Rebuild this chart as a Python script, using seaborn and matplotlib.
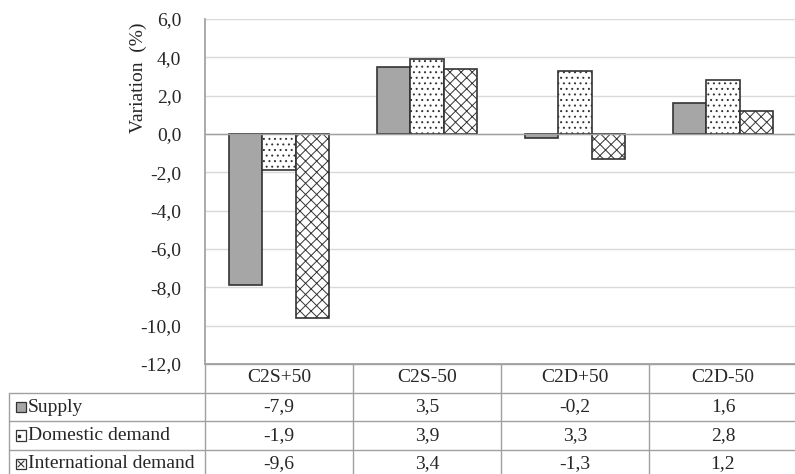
import numpy as np
import pandas as pd
import matplotlib
matplotlib.use("Agg")
import matplotlib.pyplot as plt
from matplotlib.patches import Rectangle
from matplotlib.lines import Line2D
import seaborn as sns

# ─── Data ─────────────────────────────────────────────────────────────────────
scenarios = ["C2S+50", "C2S-50", "C2D+50", "C2D-50"]
series    = ["Supply", "Domestic demand", "International demand"]
supply        = [-7.9, 3.5, -0.2, 1.6]
domestic      = [-1.9, 3.9, 3.3, 2.8]
international = [-9.6, 3.4, -1.3, 1.2]
y_ticks = [-12, -10, -8, -6, -4, -2, 0, 2, 4, 6]
# ──────────────────────────────────────────────────────────────────────────────

values = [supply, domestic, international]
df = pd.DataFrame({
    "scenario": np.tile(scenarios, len(series)),
    "series": np.repeat(series, len(scenarios)),
    "value": np.concatenate(values),
})

sns.set_theme(style="white")
plt.rcParams["font.family"] = ["Liberation Serif", "DejaVu Serif"]
plt.rcParams["hatch.linewidth"] = 0.7

W, H = 795, 474
fig = plt.figure(figsize=(W / 100, H / 100), dpi=100)


def fx(x):
    return x / W


def fy(y):
    return 1 - y / H


ax_l, ax_r, ax_t, ax_b = 205, 797, 19, 364
ax = fig.add_axes([fx(ax_l), fy(ax_b), fx(ax_r - ax_l), fy(ax_t) - fy(ax_b)])

fills   = ["#A6A6A6", "white", "white"]
hatches = ["", "...", "xxx"]
edge    = "#333333"
FS = 14

sns.barplot(data=df, x="scenario", y="value", hue="series", order=scenarios,
            hue_order=series, palette=fills, width=0.675, saturation=1,
            edgecolor=edge, linewidth=1.2, legend=False, ax=ax)

for cont, h in zip(ax.containers, hatches):
    for bar in cont:
        bar.set_hatch(h)
        bar.set_edgecolor(edge)

ax.set_xlim(-0.5, 3.5)
ax.set_ylim(-12, 6)
ax.set_yticks(y_ticks)
ax.set_yticklabels([f"{t:.1f}".replace(".", ",") for t in y_ticks], fontsize=FS)
ax.set_xticks([])
ax.set_xlabel("")
ax.set_ylabel("Variation  (%)", fontsize=FS)
ax.yaxis.set_label_coords(-0.098, 0.83)
ax.tick_params(axis="y", length=0, pad=17)
ax.yaxis.grid(True, color="#D9D9D9", linewidth=1)
ax.set_axisbelow(True)
ax.axhline(0, color="#A0A0A0", linewidth=1, zorder=1)
for s in ["top", "right"]:
    ax.spines[s].set_visible(False)
ax.spines["left"].set_color("#A0A0A0")
ax.spines["bottom"].set_color("#A0A0A0")

# ─── Data table below the plot ────────────────────────────────────────────────
line_c = "#A0A0A0"
col_w = (ax_r - ax_l) / len(scenarios)
col_edges = [ax_l + i * col_w for i in range(len(scenarios) + 1)]
row_edges = [364, 393, 421, 450, 478]
tbl_left = 9


def hline(x0, x1, y, c=line_c, lw=1):
    fig.add_artist(Line2D([fx(x0), fx(x1)], [fy(y), fy(y)], color=c, lw=lw))


def vline(x, y0, y1, c=line_c, lw=1):
    fig.add_artist(Line2D([fx(x), fx(x)], [fy(y0), fy(y1)], color=c, lw=lw))


hline(ax_l, W, row_edges[0])
for y in row_edges[1:]:
    hline(tbl_left, W, y)
vline(tbl_left, row_edges[1], row_edges[-1])
for x in col_edges[:-1]:
    vline(x, row_edges[0], row_edges[-1])

for i, name in enumerate(scenarios):
    cx = (col_edges[i] + col_edges[i + 1]) / 2
    fig.text(fx(cx), fy((row_edges[0] + row_edges[1]) / 2 - 1), name,
             ha="center", va="center", fontsize=FS)

for r, (name, vals) in enumerate(zip(series, values)):
    cy = (row_edges[r + 1] + row_edges[r + 2]) / 2
    # small legend key in front of the row label
    x0, x1, y0, y1 = 16, 26, cy - 5, cy + 5
    fig.add_artist(Rectangle((fx(x0), fy(y1)), fx(x1 - x0), fy(y0) - fy(y1),
                             facecolor=fills[r], edgecolor=edge, lw=0.9,
                             transform=fig.transFigure))
    if r == 1:
        fig.add_artist(Line2D([fx(x0 + 3)], [fy(cy)], marker="s", ms=1.5,
                              color=edge, lw=0))
    elif r == 2:
        fig.add_artist(Line2D([fx(x0 + 2), fx(x1 - 2)], [fy(y0 + 2), fy(y1 - 2)], color=edge, lw=0.8))
        fig.add_artist(Line2D([fx(x0 + 2), fx(x1 - 2)], [fy(y1 - 2), fy(y0 + 2)], color=edge, lw=0.8))
    fig.text(fx(28), fy(cy), name, ha="left", va="center", fontsize=FS)
    for i, v in enumerate(vals):
        cx = (col_edges[i] + col_edges[i + 1]) / 2
        fig.text(fx(cx), fy(cy), f"{v:.1f}".replace(".", ","),
                 ha="center", va="center", fontsize=FS)

fig.savefig("out.png", dpi=100)
